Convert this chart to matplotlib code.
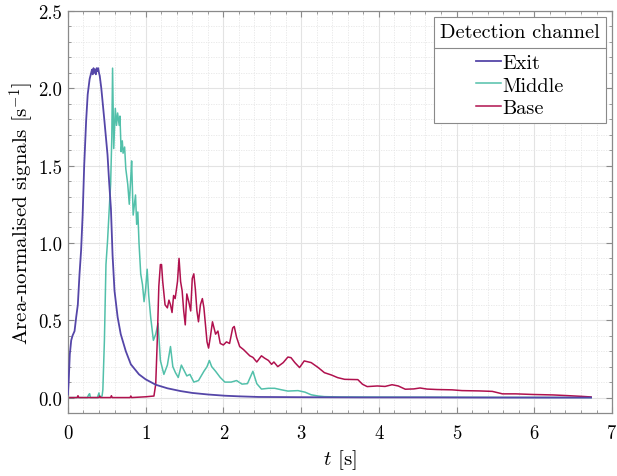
import numpy as np
import matplotlib
matplotlib.use("Agg")
import matplotlib.pyplot as plt
from matplotlib.ticker import MultipleLocator, FormatStrFormatter
from matplotlib.lines import Line2D

plt.rcParams['font.family'] = 'serif'
plt.rcParams['font.serif'] = ['cmr10']
plt.rcParams['mathtext.fontset'] = 'cm'
plt.rcParams['axes.formatter.use_mathtext'] = True

# ---------------- data ----------------
t_exit = [0.0, 0.01, 0.025, 0.043, 0.06, 0.086, 0.107, 0.128, 0.15, 0.17,
          0.19, 0.21, 0.235, 0.255, 0.28, 0.30, 0.31, 0.32, 0.33, 0.34,
          0.35, 0.36, 0.37, 0.38, 0.39, 0.40, 0.41, 0.43, 0.47, 0.51,
          0.53, 0.554, 0.575, 0.60, 0.64, 0.68, 0.745, 0.81, 0.915, 1.0,
          1.13, 1.28, 1.45, 1.6, 1.8, 2.02, 2.2, 2.45, 2.8, 3.2,
          3.8, 4.5, 5.5, 6.73]
v_exit = [0.02, 0.10, 0.28, 0.37, 0.40, 0.43, 0.52, 0.60, 0.80, 0.95,
          1.18, 1.50, 1.79, 1.96, 2.06, 2.10, 2.12, 2.09, 2.13, 2.10,
          2.12, 2.09, 2.13, 2.11, 2.13, 2.10, 2.08, 2.00, 1.79, 1.57,
          1.40, 1.22, 0.92, 0.69, 0.52, 0.41, 0.30, 0.215, 0.15, 0.118,
          0.083, 0.06, 0.042, 0.03, 0.02, 0.012, 0.008, 0.004, 0.003, 0.002,
          0.001, 0.001, 0.0, 0.0]

t_middle = [0.0, 0.25, 0.27, 0.28, 0.29, 0.31, 0.38, 0.40, 0.41, 0.44,
            0.45, 0.47, 0.49, 0.51, 0.53, 0.54, 0.55, 0.565, 0.575, 0.59,
            0.61, 0.626, 0.64, 0.66, 0.67, 0.685, 0.70, 0.71, 0.73, 0.745,
            0.77, 0.79, 0.81, 0.82, 0.84, 0.87, 0.885, 0.90, 0.915, 0.937,
            0.96, 0.98, 1.0, 1.02, 1.04, 1.065, 1.10, 1.13, 1.16, 1.19,
            1.235, 1.28, 1.32, 1.35, 1.385, 1.42, 1.46, 1.49, 1.53, 1.57,
            1.62, 1.68, 1.75, 1.79, 1.82, 1.85, 1.90, 1.96, 2.02, 2.10,
            2.17, 2.24, 2.31, 2.38, 2.43, 2.49, 2.58, 2.66, 2.75, 2.83,
            2.96, 3.05, 3.13, 3.22, 3.30, 3.50, 4.0, 5.0, 6.0, 6.73]
v_middle = [0.0, 0.0, 0.02, 0.025, 0.0, 0.0, 0.0, 0.03, 0.0, 0.01,
            0.05, 0.37, 0.86, 1.01, 1.20, 1.29, 1.38, 1.68, 2.13, 1.61,
            1.87, 1.76, 1.84, 1.76, 1.82, 1.59, 1.66, 1.58, 1.62, 1.48,
            1.38, 1.25, 1.43, 1.53, 1.18, 1.31, 1.12, 1.20, 1.00, 0.80,
            0.73, 0.62, 0.70, 0.83, 0.66, 0.52, 0.37, 0.41, 0.48, 0.24,
            0.15, 0.21, 0.33, 0.20, 0.16, 0.13, 0.21, 0.18, 0.14, 0.15,
            0.10, 0.11, 0.17, 0.20, 0.24, 0.20, 0.17, 0.13, 0.10, 0.10,
            0.11, 0.087, 0.09, 0.17, 0.09, 0.055, 0.06, 0.06, 0.05, 0.042,
            0.045, 0.035, 0.018, 0.01, 0.006, 0.004, 0.003, 0.002, 0.001, 0.0]

t_base = [0.0, 0.12, 0.13, 0.14, 0.40, 0.41, 0.42, 0.55, 0.56, 0.57,
          0.80, 0.81, 0.82, 1.0, 1.107, 1.13, 1.15, 1.17, 1.19, 1.205,
          1.22, 1.25, 1.28, 1.30, 1.32, 1.34, 1.36, 1.38, 1.41, 1.43,
          1.45, 1.47, 1.49, 1.51, 1.53, 1.555, 1.58, 1.60, 1.62, 1.64,
          1.66, 1.68, 1.705, 1.73, 1.75, 1.77, 1.79, 1.81, 1.835, 1.86,
          1.88, 1.90, 1.93, 1.96, 2.0, 2.04, 2.08, 2.12, 2.14, 2.17,
          2.21, 2.26, 2.30, 2.34, 2.38, 2.43, 2.46, 2.49, 2.53, 2.58,
          2.62, 2.65, 2.70, 2.77, 2.83, 2.87, 2.92, 2.98, 3.04, 3.13,
          3.22, 3.30, 3.39, 3.47, 3.56, 3.73, 3.79, 3.85, 3.98, 4.08,
          4.17, 4.25, 4.34, 4.45, 4.53, 4.62, 4.75, 4.94, 5.07, 5.29,
          5.46, 5.59, 5.76, 5.98, 6.24, 6.41, 6.60, 6.73]
v_base = [0.0, 0.0, 0.012, 0.0, 0.0, 0.01, 0.0, 0.0, 0.012, 0.0,
          0.0, 0.01, 0.0, 0.005, 0.01, 0.086, 0.37, 0.72, 0.86, 0.86,
          0.75, 0.60, 0.58, 0.63, 0.60, 0.55, 0.66, 0.64, 0.75, 0.90,
          0.75, 0.69, 0.56, 0.47, 0.67, 0.62, 0.56, 0.77, 0.80, 0.70,
          0.56, 0.49, 0.60, 0.64, 0.58, 0.47, 0.36, 0.32, 0.40, 0.49,
          0.45, 0.41, 0.43, 0.35, 0.34, 0.36, 0.35, 0.45, 0.46, 0.39,
          0.33, 0.31, 0.29, 0.27, 0.26, 0.23, 0.25, 0.27, 0.255, 0.24,
          0.215, 0.23, 0.20, 0.226, 0.262, 0.258, 0.226, 0.194, 0.237, 0.226,
          0.194, 0.161, 0.146, 0.129, 0.118, 0.116, 0.086, 0.071, 0.075, 0.072,
          0.083, 0.075, 0.054, 0.056, 0.062, 0.055, 0.052, 0.05, 0.045, 0.043,
          0.04, 0.024, 0.024, 0.02, 0.017, 0.013, 0.008, 0.004]

series_labels = ["Exit", "Middle", "Base"]
x_ticks = [0, 1, 2, 3, 4, 5, 6, 7]
y_ticks = [0.0, 0.5, 1.0, 1.5, 2.0, 2.5]

for a, b, n in [(t_exit, v_exit, "exit"), (t_middle, v_middle, "middle"), (t_base, v_base, "base")]:
    if len(a) != len(b):
        raise ValueError(f"{n}: {len(a)} vs {len(b)}")

# ---------------- figure ----------------
colors = ["#5546a8", "#52c0aa", "#b0114e"]
fig = plt.figure(figsize=(6.17, 4.77), dpi=100)
ax = fig.add_axes([0.110, 0.132, 0.882, 0.843])

ax.plot(t_exit, v_exit, color=colors[0], lw=1.3, label=series_labels[0], zorder=3)
ax.plot(t_middle, v_middle, color=colors[1], lw=1.1, label=series_labels[1], zorder=2)
ax.plot(t_base, v_base, color=colors[2], lw=1.1, label=series_labels[2], zorder=2)

ax.set_xlim(0, 7)
ax.set_ylim(-0.1, 2.5)
ax.set_xticks(x_ticks)
ax.set_yticks(y_ticks)
ax.xaxis.set_minor_locator(MultipleLocator(0.2))
ax.yaxis.set_minor_locator(MultipleLocator(0.1))
ax.yaxis.set_major_formatter(FormatStrFormatter('%.1f'))
ax.xaxis.set_major_formatter(FormatStrFormatter('%d'))

ax.grid(True, which='major', color='#e3e3e3', lw=0.8, ls='-')
ax.grid(True, which='minor', color='#e6e6e6', lw=0.6, ls=(0, (1.5, 1.5)))
ax.set_axisbelow(True)

spine_c = '#8a8a8a'
for s in ax.spines.values():
    s.set_color(spine_c)
    s.set_linewidth(0.9)
ax.tick_params(which='both', direction='in', top=True, right=True, color=spine_c)
ax.tick_params(which='major', length=4, width=0.8, labelsize=13.5)
ax.tick_params(axis='y', which='major', pad=4)
ax.tick_params(axis='x', which='major', pad=8)
ax.tick_params(which='minor', length=2, width=0.6)

ax.set_xlabel(r"$t$ [s]", fontsize=15, labelpad=4)
ax.set_ylabel(r"Area-normalised signals [s$^{-1}$]", fontsize=15, labelpad=2)

fs = 14.6
leg = ax.legend(title="Detection channel", loc='upper right', fontsize=fs,
                title_fontsize=fs, frameon=True, fancybox=False,
                edgecolor='#8a8a8a', framealpha=1.0, handlelength=1.2,
                handletextpad=0.08, labelspacing=0.2, borderpad=0.3,
                borderaxespad=0.3)
leg.get_frame().set_linewidth(0.8)
leg._legend_box.sep = 0.2 * fs + 6.5

fig.canvas.draw()
r = fig.canvas.get_renderer()
lb = leg.get_window_extent(r)
tb = leg.get_title().get_window_extent(r)
hb = leg._legend_handle_box.get_window_extent(r)
ysep = 0.5 * (tb.y0 + hb.y1)
inv = fig.transFigure.inverted()
(x0f, yf), (x1f, _) = inv.transform([(lb.x0, ysep), (lb.x1, ysep)])
fig.add_artist(Line2D([x0f, x1f], [yf, yf], color='#8a8a8a', lw=0.8,
                      transform=fig.transFigure, zorder=10))

fig.savefig("out.png", dpi=100)
